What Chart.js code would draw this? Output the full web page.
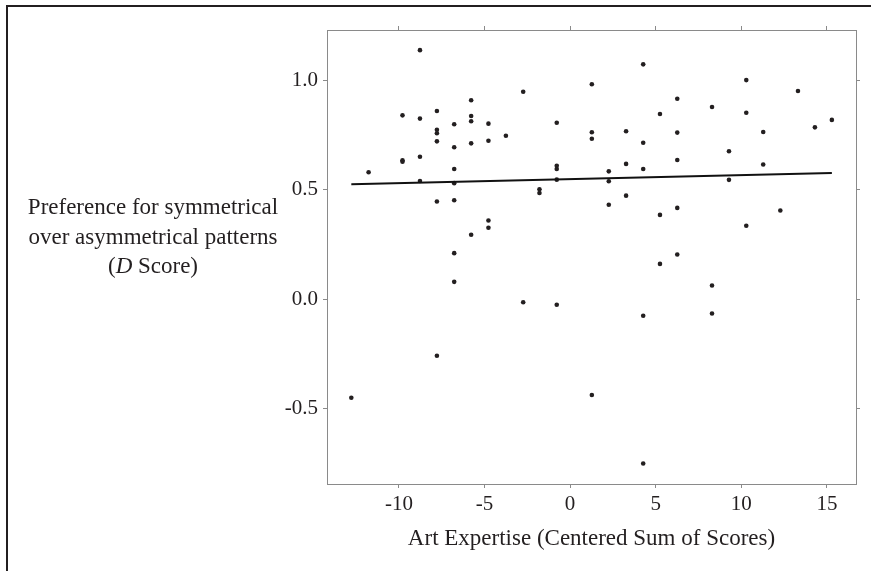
<!DOCTYPE html>
<html>
<head>
<meta charset="utf-8">
<script src="https://cdn.jsdelivr.net/npm/chart.js@4.4.1/dist/chart.umd.min.js"></script>
<style>
  html, body { margin: 0; padding: 0; background: #fff; }
  #wrap { position: relative; width: 871px; height: 571px; }
  #frame { position: absolute; left: 6px; top: 5px; right: 0; bottom: 0;
           border-left: 2px solid #231f20; border-top: 2px solid #231f20; pointer-events: none; }
</style>
</head>
<body>
<div id="wrap">
  <canvas id="myChart" width="871" height="571"></canvas>
  <div id="frame"></div>
</div>
<script>
// art expertise (x) and D score (y), one entry per participant
const expertise = [
  -12.78, -11.77,
  -9.79, -9.79, -9.79,
  -8.77, -8.77, -8.77, -8.77,
  -7.78, -7.78, -7.78, -7.78, -7.78, -7.78,
  -6.77, -6.77, -6.77, -6.77, -6.77, -6.77, -6.77,
  -5.78, -5.78, -5.78, -5.78, -5.78,
  -4.77, -4.77, -4.77, -4.77,
  -3.75, -2.74, -2.74, -1.79, -1.79,
  -0.78, -0.78, -0.78, -0.78, -0.78,
  1.27, 1.27, 1.27, 1.27,
  2.26, 2.26, 2.26,
  3.27, 3.27, 3.27,
  4.27, 4.27, 4.27, 4.27, 4.27,
  5.25, 5.25, 5.25,
  6.26, 6.26, 6.26, 6.26, 6.26,
  8.29, 8.29, 8.29,
  9.28, 9.28,
  10.29, 10.29, 10.29,
  11.28, 11.28,
  12.28, 13.31, 14.30, 15.29
];
const dScore = [
  -0.451, 0.580,
  0.840, 0.635, 0.628,
  1.138, 0.825, 0.651, 0.540,
  0.860, 0.774, 0.758, 0.721, 0.446, -0.259,
  0.799, 0.694, 0.595, 0.530, 0.452, 0.210, 0.079,
  0.909, 0.837, 0.813, 0.712, 0.294,
  0.802, 0.724, 0.359, 0.326,
  0.747, 0.948, -0.014, 0.502, 0.485,
  0.806, 0.609, 0.595, 0.546, -0.026,
  0.982, 0.763, 0.733, -0.438,
  0.584, 0.539, 0.431,
  0.767, 0.618, 0.473,
  1.073, 0.715, 0.595, -0.076, -0.751,
  0.846, 0.385, 0.161,
  0.916, 0.761, 0.636, 0.417, 0.204,
  0.878, 0.062, -0.066,
  0.676, 0.545,
  1.001, 0.852, 0.335,
  0.764, 0.615,
  0.405, 0.951, 0.785, 0.819
];

// regression line end points
const fitX = [-12.78, 15.29];
const fitY = [0.525, 0.576];

const xTicks = [-10, -5, 0, 5, 10, 15];
const yTicks = [-0.5, 0.0, 0.5, 1.0];

const serif = "'Liberation Serif', 'Times New Roman', serif";
const frameColor = '#8a8a8a';

const points = expertise.map((x, i) => ({ x: x, y: dScore[i] }));
const fitLine = fitX.map((x, i) => ({ x: x, y: fitY[i] }));

// y title is horizontal, three centred lines left of the axis
const yTitlePlugin = {
    id: 'yTitle',
    afterDraw(chart) {
        const c = chart.ctx;
        const cx = 153;
        c.save();
        c.fillStyle = '#231f20';
        c.textBaseline = 'middle';
        c.textAlign = 'center';
        c.font = '23px ' + serif;
        c.fillText('Preference for symmetrical', cx, 208);
        c.fillText('over asymmetrical patterns', cx, 238);

        // "(D Score)" with italic D
        const parts = [['(', 'normal'], ['D', 'italic'], [' Score)', 'normal']];
        let total = 0;
        parts.forEach(p => {
            c.font = (p[1] === 'italic' ? 'italic ' : '') + '23px ' + serif;
            total += c.measureText(p[0]).width;
        });
        let x = cx - total / 2;
        c.textAlign = 'left';
        parts.forEach(p => {
            c.font = (p[1] === 'italic' ? 'italic ' : '') + '23px ' + serif;
            c.fillText(p[0], x, 267);
            x += c.measureText(p[0]).width;
        });
        c.restore();
    }
};

function setTicks(values) {
    return function(scale) {
        scale.ticks = values.map(v => ({ value: v }));
    };
}

const axisBase = {
    type: 'linear',
    border: { display: true, color: frameColor, width: 1 },
    grid: { drawOnChartArea: false, drawTicks: true, tickLength: 4, color: frameColor }
};

const ctx = document.getElementById('myChart').getContext('2d');

let myChart = new Chart(ctx, {
    type: 'scatter',
    data: {
        datasets: [{
            label: 'Participants',
            data: points,
            backgroundColor: '#231f20',
            borderColor: '#231f20',
            pointRadius: 2.3,
            pointBorderWidth: 0,
            order: 2
        }, {
            label: 'Fit',
            type: 'line',
            data: fitLine,
            borderColor: '#111',
            borderWidth: 2,
            pointRadius: 0,
            fill: false,
            order: 1
        }]
    },
    options: {
        responsive: false,
        animation: false,
        layout: { padding: 0 },
        plugins: {
            legend: { display: false },
            tooltip: { enabled: false }
        },
        scales: {
            x: Object.assign({}, axisBase, {
                position: 'bottom',
                min: -14.2,
                max: 16.7,
                afterBuildTicks: setTicks(xTicks),
                afterFit: (s) => { s.height = 87; },
                ticks: {
                    color: '#231f20',
                    font: { family: serif, size: 21 },
                    padding: 4,
                    maxRotation: 0,
                    callback: (v) => String(v)
                },
                title: {
                    display: true,
                    text: 'Art Expertise (Centered Sum of Scores)',
                    color: '#231f20',
                    font: { family: serif, size: 23 },
                    padding: { top: 4, bottom: 18 }
                }
            }),
            x2: Object.assign({}, axisBase, {
                position: 'top',
                min: -14.2,
                max: 16.7,
                afterBuildTicks: setTicks(xTicks),
                afterFit: (s) => { s.height = 30; },
                ticks: { display: false }
            }),
            y: Object.assign({}, axisBase, {
                position: 'left',
                min: -0.845,
                max: 1.23,
                afterBuildTicks: setTicks(yTicks),
                afterFit: (s) => { s.width = 327; },
                ticks: {
                    color: '#231f20',
                    font: { family: serif, size: 21 },
                    padding: 5,
                    callback: (v) => v.toFixed(1)
                }
            }),
            y2: Object.assign({}, axisBase, {
                position: 'right',
                min: -0.845,
                max: 1.23,
                afterBuildTicks: setTicks(yTicks),
                afterFit: (s) => { s.width = 15; },
                ticks: { display: false }
            })
        }
    },
    plugins: [yTitlePlugin]
});
</script>
</body>
</html>
